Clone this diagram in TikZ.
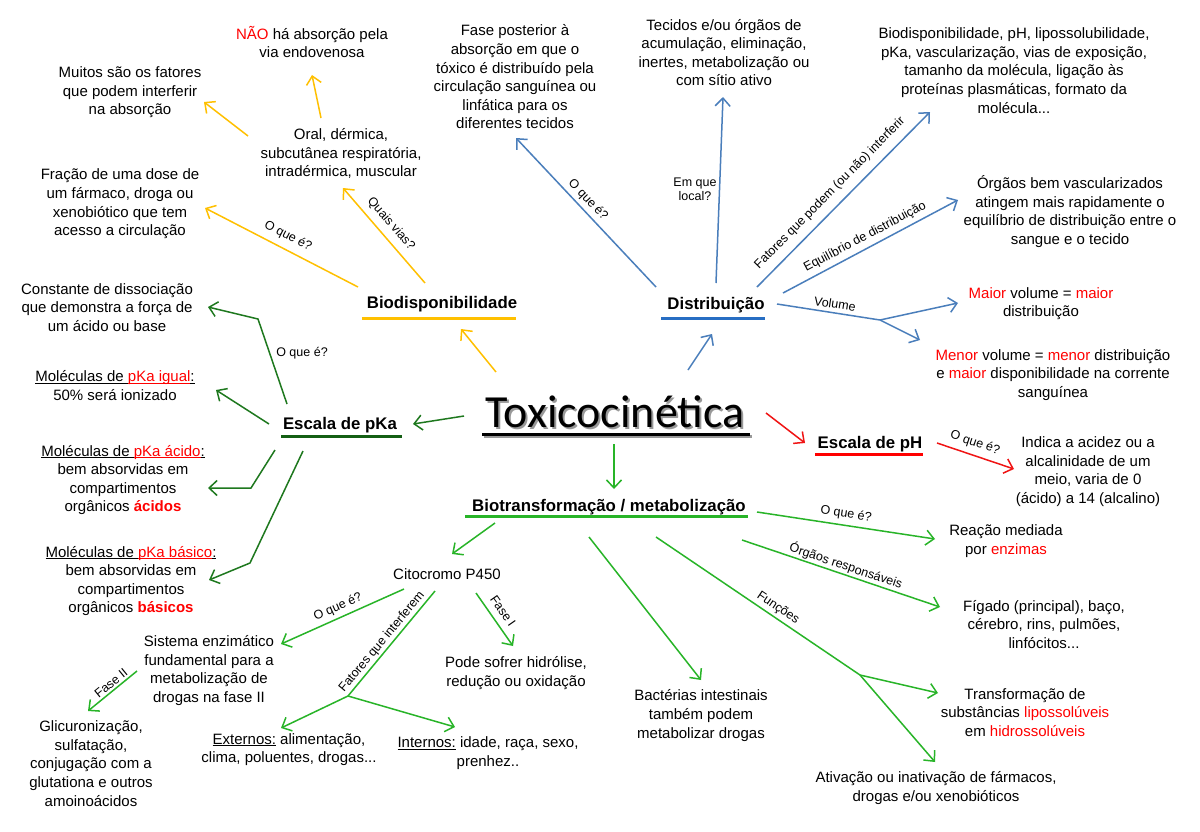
\documentclass[tikz,border=0pt]{standalone}
\usepackage{fontspec}
\setmainfont{Liberation Sans}
\newfontfamily\carl{Carlito}
\usetikzlibrary{arrows.meta}
\definecolor{cy}{RGB}{255,192,0}
\definecolor{cb}{RGB}{74,126,187}
\definecolor{cbu}{RGB}{40,110,195}
\definecolor{cdg}{RGB}{30,120,30}
\definecolor{cdgu}{RGB}{20,95,20}
\definecolor{cg}{RGB}{40,180,40}
\definecolor{cr}{RGB}{255,0,0}
\definecolor{crl}{RGB}{240,20,20}
\newcommand\myul[1]{\setbox0\hbox{#1}\rlap{\rule[-2.3pt]{\wd0}{0.9pt}}\box0\relax}
\begin{document}
\begin{tikzpicture}[x=1pt,y=-1pt,
 txt/.style={align=center, inner sep=0pt, font=\fontsize{15}{18.6}\selectfont},
 lbl/.style={inner sep=0pt, font=\fontsize{12.5}{14}\selectfont},
 hd/.style={inner sep=0pt, font=\fontsize{16.8}{19}\selectfont\bfseries},
 arr/.style={line width=1.5pt, -{Straight Barb[length=8pt,width=15pt]}},
 ln/.style={line width=1.5pt},
 ul/.style={line width=3pt},
]
\fill[white] (0,0) rectangle (1200,831);
\useasboundingbox (0,0) rectangle (1200,831);

% ---------- central title ----------
\node[font=\carl\fontsize{46}{50}\selectfont, text=black!40, inner sep=0pt] at (617,414) {Toxicocinética};
\node[font=\carl\fontsize{46}{50}\selectfont, inner sep=0pt] (tox) at (615,412) {Toxicocinética};
\draw[black!40, ul] (484,436.5) -- (752,436.5);
\draw[black, ul] (482,434) -- (750,434);

% ---------- headings ----------
\node[hd] (bio) at (442,304) {Biodisponibilidade};
\draw[cy, ul] (362,318) -- (516,318);
\node[hd] (dist) at (716,305) {Distribuição};
\draw[cbu, ul] (661,318) -- (765,318);
\node[hd] (pka) at (340,425) {Escala de pKa};
\draw[cdgu, ul] (281,436) -- (402,436);
\node[hd] (ph) at (870,444) {Escala de pH};
\draw[cr, ul] (815,454) -- (923,454);
\node[hd] (bt) at (609,507) {Biotransformação / metabolização};
\draw[cg, ul] (465,516) -- (748,516);

% ---------- Biodisponibilidade branch ----------
\node[txt] (nao) at (312,42) {\textcolor{cr}{NÃO} há absorção pela\\via endovenosa};
\node[txt] (muitos) at (130,92.5) {Muitos são os fatores\\que podem interferir\\na absorção};
\node[txt] (oral) at (341,153.5) {Oral, dérmica,\\subcutânea respiratória,\\intradérmica, muscular};
\node[txt] (fracao) at (120,204) {Fração de uma dose de\\um fármaco, droga ou\\xenobiótico que tem\\acesso a circulação};

\coordinate (ya) at (496,372); \coordinate (yb) at (461,329);
\draw[arr,cy] (ya) -- (yb);
\coordinate (yc) at (358,287); \coordinate (yd) at (205,208);
\draw[arr,cy] (yc) -- (yd);
\node[lbl, rotate=-27.3] (lq1) at (288,236) {O que é?};
\coordinate (ye) at (425,283); \coordinate (yf) at (343,188);
\draw[arr,cy] (ye) -- (yf);
\node[lbl, rotate=-49.2] (lvias) at (391,224) {Quais vias?};
\coordinate (yg) at (321,118); \coordinate (yh) at (312,75);
\draw[arr,cy] (yg) -- (yh);
\coordinate (yi) at (248,136); \coordinate (yj) at (204,102);
\draw[arr,cy] (yi) -- (yj);

% ---------- Distribuicao branch ----------
\node[txt] (fase) at (515,77) {Fase posterior à\\absorção em que o\\tóxico é distribuído pela\\circulação sanguínea ou\\linfática para os\\diferentes tecidos};
\node[txt] (tecidos) at (724,52.5) {Tecidos e/ou órgãos de\\acumulação, eliminação,\\inertes, metabolização ou\\com sítio ativo};
\node[txt] (fatdist) at (1014,70.5) {Biodisponibilidade, pH, lipossolubilidade,\\pKa, vascularização, vias de exposição,\\tamanho da molécula, ligação às\\proteínas plasmáticas, formato da\\molécula...};
\node[txt] (orgaos) at (1070,211.5) {Órgãos bem vascularizados\\atingem mais rapidamente o\\equilíbrio de distribuição entre o\\sangue e o tecido};
\node[txt] (maior) at (1041,303.5) {\textcolor{cr}{Maior} volume = \textcolor{cr}{maior}\\distribuição};
\node[txt] (menor) at (1053,375) {\textcolor{cr}{Menor} volume = \textcolor{cr}{menor} distribuição\\e \textcolor{cr}{maior} disponibilidade na corrente\\sanguínea};

\coordinate (ba) at (688,370); \coordinate (bb) at (712,334);
\draw[arr,cb] (ba) -- (bb);
\coordinate (bc) at (656,287); \coordinate (bd) at (516,138);
\draw[arr,cb] (bc) -- (bd);
\node[lbl, rotate=-46.8] (lq2) at (588,200) {O que é?};
\coordinate (be) at (716,283); \coordinate (bf) at (723,97);
\draw[arr,cb] (be) -- (bf);
\node[lbl, align=center, font=\fontsize{12.5}{14}\selectfont] (llocal) at (695,189) {Em que\\local?};
\coordinate (bg) at (757,287); \coordinate (bh) at (930,112);
\draw[arr,cb] (bg) -- (bh);
\node[lbl, rotate=45.3] (lfat) at (830,193) {Fatores que podem (ou não) interferir};
\coordinate (bi) at (783,293); \coordinate (bj) at (958,200);
\draw[arr,cb] (bi) -- (bj);
\node[lbl, rotate=28] (lequi) at (865,237) {Equilíbrio de distribuição};
\coordinate (bk) at (777,304); \coordinate (bl) at (880,320);
\coordinate (bm) at (958,303); \coordinate (bn) at (920,340);
\draw[ln,cb] (bk) -- (bl);
\draw[arr,cb] (bl) -- (bm);
\draw[arr,cb] (bl) -- (bn);
\node[lbl, rotate=-8.8] (lvol) at (835,304) {Volume};

% ---------- pH branch ----------
\node[txt] (indica) at (1088,471.5) {Indica a acidez ou a\\alcalinidade de um\\meio, varia de 0\\(ácido) a 14 (alcalino)};
\coordinate (ra) at (766,413); \coordinate (rb) at (805,443);
\draw[arr,crl] (ra) -- (rb);
\coordinate (rc) at (937,443); \coordinate (rd) at (1014,469);
\draw[arr,crl] (rc) -- (rd);
\node[lbl, rotate=-18.7] (lq3) at (975,443) {O que é?};

% ---------- pKa branch ----------
\node[txt] (const) at (107,307.5) {Constante de dissociação\\que demonstra a força de\\um ácido ou base};
\node[txt] (igual) at (115,385.5) {\myul{Moléculas de }\textcolor{cr}{\myul{pKa igual}}\myul{:}\\50\% será ionizado};
\node[txt] (acido) at (123,480) {\myul{Moléculas de }\textcolor{cr}{\myul{pKa ácido}}\myul{:}\\bem absorvidas em\\compartimentos\\orgânicos \textcolor{cr}{\textbf{ácidos}}};
\node[txt] (basico) at (131,581) {\myul{Moléculas de }\textcolor{cr}{\myul{pKa básico}}\myul{:}\\bem absorvidas em\\compartimentos\\orgânicos \textcolor{cr}{\textbf{básicos}}};

\coordinate (ka) at (464,416); \coordinate (kb) at (413,424);
\draw[arr,cdg] (ka) -- (kb);
\coordinate (kc) at (287,404); \coordinate (kd) at (258,319); \coordinate (ke) at (208,307);
\draw[arr,cdg] (kc) -- (kd) -- (ke);
\node[lbl] (lq4) at (302,353) {O que é?};
\coordinate (kf) at (269,424); \coordinate (kg) at (216,390);
\draw[arr,cdg] (kf) -- (kg);
\coordinate (kh) at (275,450); \coordinate (ki) at (251,488); \coordinate (kj) at (208,488);
\draw[arr,cdg] (kh) -- (ki) -- (kj);
\coordinate (kk) at (303,451); \coordinate (kl) at (250,563); \coordinate (km) at (209,580);
\draw[arr,cdg] (kk) -- (kl) -- (km);

% ---------- Biotransformacao branch ----------
\node[txt] (cito) at (447,574) {Citocromo P450};
\node[txt] (reacao) at (1006,541) {Reação mediada\\por \textcolor{cr}{enzimas}};
\node[txt] (figado) at (1044,624.5) {Fígado (principal), baço,\\cérebro, rins, pulmões,\\linfócitos...};
\node[txt] (bact) at (701,715.5) {Bactérias intestinais\\também podem\\metabolizar drogas};
\node[txt] (transf) at (1025,712.5) {Transformação de\\substâncias \textcolor{cr}{lipossolúveis}\\em \textcolor{cr}{hidrossolúveis}};
\node[txt] (ativ) at (936,788) {Ativação ou inativação de fármacos,\\drogas e/ou xenobióticos};
\node[txt] (sist) at (209,670.5) {Sistema enzimático\\fundamental para a\\metabolização de\\drogas na fase II};
\node[txt] (glic) at (91,763.5) {Glicuronização,\\sulfatação,\\conjugação com a\\glutationa e outros\\amoinoácidos};
\node[txt] (pode) at (516,673) {Pode sofrer hidrólise,\\redução ou oxidação};
\node[txt] (ext) at (289,749.5) {\myul{Externos:} alimentação,\\clima, poluentes, drogas...};
\node[txt] (int) at (488,753) {\myul{Internos:} idade, raça, sexo,\\prenhez..};

\coordinate (ga) at (614,444); \coordinate (gb) at (614,489);
\draw[arr,cg] (ga) -- (gb);
\coordinate (gc) at (495,523); \coordinate (gd) at (452,554);
\draw[arr,cg] (gc) -- (gd);
\coordinate (ge) at (757,512); \coordinate (gf) at (935,539);
\draw[arr,cg] (ge) -- (gf);
\node[lbl, rotate=-8.6] (lq5) at (846,514) {O que é?};
\coordinate (gg) at (742,540); \coordinate (gh) at (940,607);
\draw[arr,cg] (gg) -- (gh);
\node[lbl, rotate=-18.7] (lorg) at (846,566) {Órgãos responsáveis};
\coordinate (gi) at (589,537); \coordinate (gj) at (701,680);
\draw[arr,cg] (gi) -- (gj);
\coordinate (gk) at (656,537); \coordinate (gl) at (860,675);
\coordinate (gm) at (938,693); \coordinate (gn) at (935,762);
\draw[ln,cg] (gk) -- (gl);
\draw[arr,cg] (gl) -- (gm);
\draw[arr,cg] (gl) -- (gn);
\node[lbl, rotate=-34.1] (lfun) at (778,608) {Funções};

\coordinate (ca) at (404,589); \coordinate (cb) at (281,644);
\draw[arr,cg] (ca) -- (cb);
\node[lbl, rotate=24.1] (lq6) at (338,607) {O que é?};
\coordinate (cc) at (435,591); \coordinate (cd) at (348,696);
\coordinate (ce) at (281,728); \coordinate (cf) at (455,727);
\draw[ln,cg] (cc) -- (cd);
\draw[arr,cg] (cd) -- (ce);
\draw[arr,cg] (cd) -- (cf);
\node[lbl, rotate=50.4] (lfi) at (382,642) {Fatores que interferem};
\coordinate (cg1) at (476,593); \coordinate (ch) at (513,646);
\draw[arr,cg] (cg1) -- (ch);
\node[lbl, rotate=-55.1] (lf1) at (503,611) {Fase I};
\coordinate (ci) at (137,671); \coordinate (cj) at (88,711);
\draw[arr,cg] (ci) -- (cj);
\node[lbl, rotate=39.2] (lf2) at (111,683) {Fase II};
\end{tikzpicture}
\end{document}
